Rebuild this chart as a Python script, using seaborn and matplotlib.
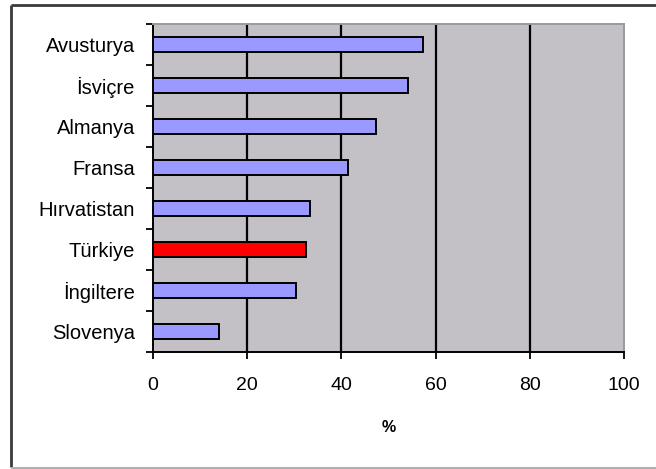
import matplotlib
matplotlib.use("Agg")
import matplotlib.pyplot as plt
import seaborn as sns
import numpy as np
from matplotlib.lines import Line2D
from matplotlib.ticker import FixedLocator

countries = ["Avusturya", "İsviçre", "Almanya", "Fransa", "Hırvatistan",
             "Türkiye", "İngiltere", "Slovenya"]
values = [57.4, 54.1, 47.4, 41.3, 33.3, 32.4, 30.3, 14.1]
bar_colors = ["#9999FF", "#9999FF", "#9999FF", "#9999FF", "#9999FF",
              "#FF0000", "#9999FF", "#9999FF"]
x_ticks = [0, 20, 40, 60, 80, 100]

sns.set_theme(style="white")
plt.rcParams["font.family"] = ["Liberation Sans", "DejaVu Sans"]

W, H = 656, 469
fig = plt.figure(figsize=(W / 100, H / 100), dpi=100)
fig.patch.set_facecolor("white")

# outer chart frame: dark left/top edges, light bottom edge
def fig_line(x0, y0, x1, y1, color, lw):
    fig.add_artist(Line2D([x0 / W, x1 / W], [1 - y0 / H, 1 - y1 / H],
                          transform=fig.transFigure, color=color, linewidth=lw,
                          solid_capstyle="butt", zorder=0))

fig_line(11, 5, 11, 467, "#3a3a3a", 2.0)
fig_line(11, 5, W, 5, "#3a3a3a", 2.0)
fig_line(11, 467.5, W, 467.5, "#b0b0b0", 1.5)

left, right, top, bottom = 153, 624, 24, 352
ax = fig.add_axes([left / W, (H - bottom) / H, (right - left) / W, (bottom - top) / H])
ax.set_facecolor("#C3C1C5")

sns.barplot(x=values, y=countries, hue=countries, palette=bar_colors,
            saturation=1, orient="h", width=0.38, edgecolor="black",
            linewidth=1.4, legend=False, ax=ax, zorder=3)

ax.set_xlim(0, 100)
ax.set_ylim(len(countries) - 0.5, -0.5)
ax.set_xticks(x_ticks)
ax.set_xticklabels([str(t) for t in x_ticks])

# vertical gridlines
for t in x_ticks[1:-1]:
    ax.axvline(t, color="black", linewidth=1.6, zorder=1)

# tick marks between categories
ax.yaxis.set_minor_locator(FixedLocator(np.arange(-0.5, len(countries), 1.0)))
ax.tick_params(axis="y", which="major", length=0, pad=13, labelsize=14.5, colors="black")
ax.tick_params(axis="y", which="minor", length=5, width=1.3, color="black",
               direction="out", left=True)
ax.tick_params(axis="x", which="major", length=5, width=1.3, color="black",
               direction="out", bottom=True, pad=13, labelsize=14, labelcolor="black")

for side in ["left", "bottom"]:
    ax.spines[side].set_color("black")
    ax.spines[side].set_linewidth(1.4)
for side in ["top", "right"]:
    ax.spines[side].set_color("#9a9a9a")
    ax.spines[side].set_linewidth(1.4)

ax.set_ylabel("")
ax.set_xlabel("%", fontsize=11.5, fontweight="bold", labelpad=19, color="black")

fig.savefig("out.png", dpi=100)
